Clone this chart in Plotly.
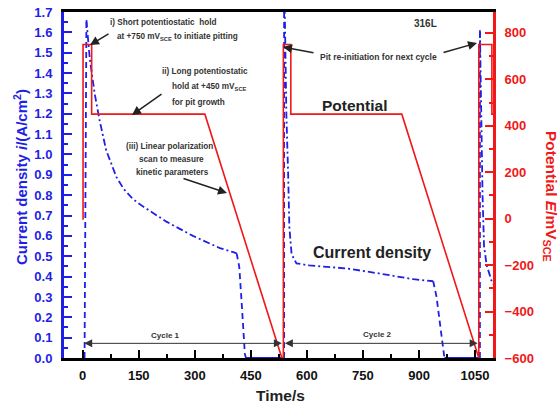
import plotly.graph_objects as go

# ---- data -------------------------------------------------------------
# Potential program (mV vs SCE)
pot_time = [1, 1, 24, 24, 327, 533, 537, 537, 557, 557, 854, 1058, 1060, 1060, 1095, 1095, 1100]
pot_mv = [-5, 750, 750, 450, 450, -600, -600, 750, 750, 450, 450, -600, -600, 750, 750, 450, 450]

# Current density (A/cm2), split into rise / decay / drop / idle parts
rise1_t = [5, 10]
rise1_i = [0, 1.66]
decay1_t = [10, 19, 32, 45, 63, 90, 110, 135, 161, 224, 295, 331, 367, 403, 412]
decay1_i = [1.66, 1.47, 1.30, 1.17, 1.02, 0.89, 0.83, 0.78, 0.745, 0.67, 0.60, 0.57, 0.54, 0.52, 0.514]
drop1_t = [412, 419, 425, 434, 437]
drop1_i = [0.514, 0.448, 0.284, 0.02, 0]
idle1_t = [437, 539]
idle1_i = [0, 0]

rise2_t = [539, 539]
rise2_i = [0, 1.8]
decay2_t = [540, 545, 550, 553, 559, 572, 606, 706, 795, 885, 938]
decay2_i = [1.8, 1.2, 0.89, 0.645, 0.51, 0.465, 0.455, 0.44, 0.415, 0.387, 0.377]
drop2_t = [938, 947, 956, 965, 968]
drop2_i = [0.377, 0.30, 0.17, 0.03, 0]
idle2_t = [968, 1063]
idle2_i = [0, 0]

rise3_t = [1063, 1063]
rise3_i = [0, 1.61]
decay3_t = [1063, 1066, 1070, 1074, 1081, 1095, 1100]
decay3_i = [1.61, 1.2, 0.8, 0.55, 0.456, 0.374, 0.36]

x_ticks = [0, 150, 300, 450, 600, 750, 900, 1050]
y1_ticks = [round(0.1 * k, 1) for k in range(18)]
y2_ticks = [-600, -400, -200, 0, 200, 400, 600, 800]

cycle1 = (0, 533)
cycle2 = (537, 1057)

# ---- figure -----------------------------------------------------------
W, H = 560, 409
L, R, T, B = 64, 67, 12, 51
BLUE = "#1f1fe6"
RED = "#f01818"
FONT = "Liberation Sans, Arial, sans-serif"

fig = go.Figure()

dash_v = "6px,4px"
dash_d = "7px,3px,2px,3px"
for tt, ii, dsh in [(rise1_t, rise1_i, dash_v), (decay1_t, decay1_i, dash_d), (drop1_t, drop1_i, dash_v),
                    (idle1_t, idle1_i, "solid"),
                    (rise2_t, rise2_i, dash_v), (decay2_t, decay2_i, dash_d), (drop2_t, drop2_i, dash_v),
                    (idle2_t, idle2_i, "solid"),
                    (rise3_t, rise3_i, dash_v), (decay3_t, decay3_i, dash_d)]:
    fig.add_trace(go.Scatter(x=tt, y=ii, mode="lines", yaxis="y",
                             line=dict(color=BLUE, width=1.8, dash=dsh),
                             showlegend=False, hoverinfo="skip"))

fig.add_trace(go.Scatter(x=pot_time, y=pot_mv, mode="lines", yaxis="y2",
                         line=dict(color=RED, width=1.6), showlegend=False, hoverinfo="skip"))

fig.update_layout(
    width=W, height=H,
    margin=dict(l=L, r=R, t=T, b=B, autoexpand=False),
    paper_bgcolor="white", plot_bgcolor="white",
    font=dict(family=FONT),
    xaxis=dict(range=[-50, 1098], tickvals=x_ticks, ticks="inside", ticklen=8, tickwidth=2,
               tickcolor="black", showline=True, linecolor="black", linewidth=2.5, mirror=True,
               showgrid=False, zeroline=False, automargin=False,
               tickfont=dict(size=13, color="#111", weight="bold"),
               minor=dict(dtick=75, tick0=0, ticks="inside", ticklen=4, tickwidth=2, tickcolor="black"),
               ticklabelstandoff=4),
    yaxis=dict(range=[0, 1.7], tickvals=y1_ticks, tickformat=".1f", ticks="inside", ticklen=8,
               tickwidth=2, tickcolor=BLUE, showline=True, linecolor=BLUE, linewidth=3,
               showgrid=False, zeroline=False, automargin=False,
               tickfont=dict(size=13, color=BLUE, weight="bold"),
               minor=dict(dtick=0.05, tick0=0, ticks="inside", ticklen=4, tickwidth=2, tickcolor=BLUE),
               ticklabelstandoff=6),
    yaxis2=dict(range=[-600, 890], tickvals=y2_ticks, overlaying="y", side="right", ticks="inside",
                ticklen=8, tickwidth=2, tickcolor=RED, showline=True, linecolor=RED, linewidth=3,
                showgrid=False, zeroline=False, automargin=False,
                tickfont=dict(size=13, color=RED, weight="bold"),
                minor=dict(dtick=100, tick0=0, ticks="inside", ticklen=4, tickwidth=2, tickcolor=RED),
                ticklabelstandoff=6),
)

pw = W - L - R
ph = H - T - B


def px(x, y):
    return (x - L) / pw, (H - B - y) / ph


anns = []


def text(x, y, s, size=8.2, color="#333", anchor="center", angle=0, weight="bold"):
    xp, yp = px(x, y)
    anns.append(dict(x=xp, y=yp, xref="paper", yref="paper", text=s, showarrow=False,
                     xanchor=anchor, yanchor="middle", textangle=angle,
                     font=dict(size=size, color=color, family=FONT, weight=weight)))


def arrow(hx, hy, tx, ty):
    xp, yp = px(hx, hy)
    anns.append(dict(x=xp, y=yp, xref="paper", yref="paper", text="", showarrow=True,
                     ax=tx - hx, ay=ty - hy, arrowhead=2, arrowsize=1.2, arrowwidth=1.5,
                     arrowcolor="#222"))


text(108, 23, "i) Short potentiostatic  hold", anchor="left")
text(115, 37, "at +750 mV<sub>SCE</sub> to initiate pitting", anchor="left")
arrow(90, 45, 110, 33)

text(160, 71, "ii) Long potentiostatic", anchor="left")
text(170, 87, "hold at +450 mV<sub>SCE</sub>", anchor="left")
text(170, 102, "for pit growth", anchor="left")
arrow(132, 115, 163, 93)

text(169, 146, "(iii) Linear polarization")
text(171, 159, "scan to measure")
text(172, 172, "kinetic parameters")
arrow(227, 193, 182, 178)

text(425, 24, "316L", size=10)
text(378, 57, "Pit re-initiation for next cycle", size=8.5)
arrow(283, 47, 315, 53)
arrow(477, 43, 442, 53)

text(354, 105, "Potential", size=15.5, color="#222")
text(372, 252, "Current density", size=16, color="#222")

text(165, 335, "Cycle 1", size=8)
text(377, 334, "Cycle 2", size=8)

text(280, 395, "Time/s", size=15.5, color="#222")
text(20, 177, "Current density <i>i</i>/(A/cm<sup>2</sup>)", size=15, color=BLUE, angle=-90)
text(550, 196, "Potential <i>E</i>/mV<sub>SCE</sub>", size=15.5, color=RED, angle=90)

for (a, b) in (cycle1, cycle2):
    anns.append(dict(x=b, y=0.072, ax=a, ay=0.072, xref="x", yref="y", axref="x", ayref="y",
                     text="", showarrow=True, arrowside="end+start", arrowhead=2, arrowsize=1.6,
                     arrowwidth=1, arrowcolor="#333"))

fig.update_layout(annotations=anns)
fig.write_html("out.html")
